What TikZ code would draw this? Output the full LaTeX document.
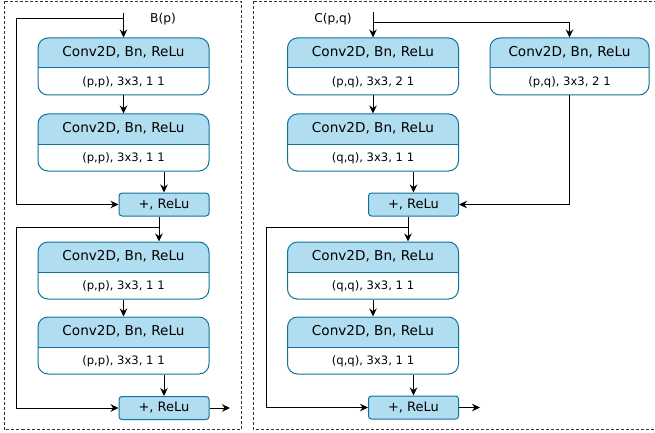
\documentclass[tikz,border=0pt]{standalone}
\usepackage{fontspec}
\setmainfont{DejaVu Sans}
\usetikzlibrary{arrows.meta,positioning,calc}
\definecolor{convfill}{HTML}{B1DDF0}
\definecolor{convline}{HTML}{10739E}
\tikzset{
  conv/.style={draw=convline, fill=white, line width=1pt, rounded corners=10pt,
    minimum width=171pt, minimum height=57pt, inner sep=0pt,
    path picture={
      \fill[convfill, sharp corners] (path picture bounding box.north west) rectangle ([yshift=-30pt]path picture bounding box.north east);
      \draw[convline, line width=1pt, sharp corners] ([yshift=-30pt]path picture bounding box.north west) -- ([yshift=-30pt]path picture bounding box.north east);}},
  addbox/.style={draw=convline, fill=convfill, line width=1pt, rounded corners=3pt,
    minimum width=90pt, minimum height=23pt, inner sep=0pt, font=\fontsize{13}{14}\selectfont},
  hdtxt/.style={inner sep=0pt, font=\fontsize{13.6}{15}\selectfont},
  partxt/.style={inner sep=0pt, font=\fontsize{11.6}{13}\selectfont},
  lbl/.style={inner sep=0pt, font=\fontsize{12.2}{14}\selectfont},
  arr/.style={-{Stealth[length=8pt,width=7.5pt]}, line width=1pt},
  panel/.style={line width=1pt, dash pattern=on 3pt off 2pt, draw=black!80}
}
\begin{document}
\begin{tikzpicture}[x=1pt,y=-1pt]
\useasboundingbox (0,0) rectangle (655,433);

% panels
\draw[panel] (4,1.5) rectangle (241,429);
\draw[panel] (253,1.5) rectangle (680,429);

% ---- B(p) ----
\node[conv] (l1) at (123.5,66.5) {};
\node[hdtxt] (l1h) at ([yshift=-15pt]l1.north) {Conv2D, Bn, ReLu};
\node[partxt] (l1p) at ([yshift=13.5pt]l1.south) {(p,p), 3x3, 1 1};

\node[conv] (l2) at (123.5,142.5) {};
\node[hdtxt] (l2h) at ([yshift=-15pt]l2.north) {Conv2D, Bn, ReLu};
\node[partxt] (l2p) at ([yshift=13.5pt]l2.south) {(p,p), 3x3, 1 1};

\node[addbox] (a1) at (164,204.5) {+, ReLu};

\node[conv] (l3) at (123.5,270.5) {};
\node[hdtxt] (l3h) at ([yshift=-15pt]l3.north) {Conv2D, Bn, ReLu};
\node[partxt] (l3p) at ([yshift=13.5pt]l3.south) {(p,p), 3x3, 1 1};

\node[conv] (l4) at (123.5,345.5) {};
\node[hdtxt] (l4h) at ([yshift=-15pt]l4.north) {Conv2D, Bn, ReLu};
\node[partxt] (l4p) at ([yshift=13.5pt]l4.south) {(p,p), 3x3, 1 1};

\node[addbox] (a2) at (164,408) {+, ReLu};

\node[lbl] (bp) at (163,19) {B(p)};

\coordinate (inB) at (123.5,13);
\coordinate (brB) at (123.5,19);
\coordinate (skB) at (16,19);
\coordinate (brB2) at (159,227);
\coordinate (skB2) at (16,227);
\coordinate (outB) at (230,408);

\draw[arr] (inB) -- (l1.north);
\draw[arr] (brB) -- (skB) |- (a1.west);
\draw[arr] (l1) -- (l2);
\draw[arr] (l2.south -| a1.north) -- (a1.north);
\draw[arr] (a1.south -| brB2) -- (l3.north -| brB2);
\draw[arr] (brB2) -- (skB2) |- (a2.west);
\draw[arr] (l3) -- (l4);
\draw[arr] (l4.south -| a2.north) -- (a2.north);
\draw[arr] (a2.east) -- (outB);

% ---- C(p,q) ----
\node[conv] (r1) at (373,66.5) {};
\node[hdtxt] (r1h) at ([yshift=-15pt]r1.north) {Conv2D, Bn, ReLu};
\node[partxt] (r1p) at ([yshift=13.5pt]r1.south) {(p,q), 3x3, 2 1};

\node[conv] (r2) at (373,142.5) {};
\node[hdtxt] (r2h) at ([yshift=-15pt]r2.north) {Conv2D, Bn, ReLu};
\node[partxt] (r2p) at ([yshift=13.5pt]r2.south) {(q,q), 3x3, 1 1};

\node[conv, minimum width=159pt] (r3) at (569.5,66.5) {};
\node[hdtxt] (r3h) at ([yshift=-15pt]r3.north) {Conv2D, Bn, ReLu};
\node[partxt] (r3p) at ([yshift=13.5pt]r3.south) {(p,q), 3x3, 2 1};

\node[addbox] (ra1) at (413.5,204.5) {+, ReLu};

\node[conv] (r4) at (373,270.5) {};
\node[hdtxt] (r4h) at ([yshift=-15pt]r4.north) {Conv2D, Bn, ReLu};
\node[partxt] (r4p) at ([yshift=13.5pt]r4.south) {(q,q), 3x3, 1 1};

\node[conv] (r5) at (373,345.5) {};
\node[hdtxt] (r5h) at ([yshift=-15pt]r5.north) {Conv2D, Bn, ReLu};
\node[partxt] (r5p) at ([yshift=13.5pt]r5.south) {(q,q), 3x3, 1 1};

\node[addbox] (ra2) at (413.5,407.5) {+, ReLu};

\node[lbl] (cpq) at (333,19) {C(p,q)};

\coordinate (inC) at (373,12);
\coordinate (brC) at (373,23);
\coordinate (brC2) at (408,227);
\coordinate (skC2) at (266,227);
\coordinate (outC) at (480,407.5);

\draw[arr] (inC) -- (r1.north);
\draw[arr] (brC) -| (r3.north);
\draw[arr] (r1) -- (r2);
\draw[arr] (r2.south -| ra1.north) -- (ra1.north);
\draw[arr] (r3.south) |- (ra1.east);
\draw[arr] (ra1.south -| brC2) -- (r4.north -| brC2);
\draw[arr] (brC2) -- (skC2) |- (ra2.west);
\draw[arr] (r4) -- (r5);
\draw[arr] (r5.south -| ra2.north) -- (ra2.north);
\draw[arr] (ra2.east) -- (outC);

\end{tikzpicture}
\end{document}
